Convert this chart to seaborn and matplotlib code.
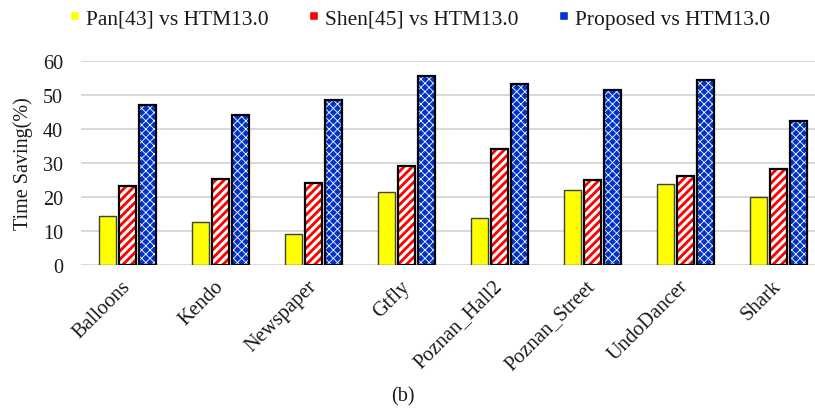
import matplotlib
matplotlib.use("Agg")
import matplotlib.pyplot as plt
import matplotlib.colors as mcolors
import seaborn as sns
import pandas as pd

categories = ["Balloons", "Kendo", "Newspaper", "Gtfly", "Poznan_Hall2",
              "Poznan_Street", "UndoDancer", "Shark"]
series_names = ["Pan[43] vs HTM13.0", "Shen[45] vs HTM13.0", "Proposed vs HTM13.0"]
pan_values = [14.3, 12.7, 9.1, 21.6, 13.9, 22.2, 23.8, 19.9]
shen_values = [23.1, 25.3, 24.0, 29.2, 34.1, 25.0, 26.3, 28.2]
proposed_values = [47.2, 44.2, 48.5, 55.7, 53.1, 51.4, 54.3, 42.4]
y_ticks = [0, 10, 20, 30, 40, 50, 60]

sns.set_style("white")
plt.rcParams["font.family"] = ["Liberation Serif", "DejaVu Serif"]
plt.rcParams["hatch.linewidth"] = 2.0

rows = []
for name, vals in zip(series_names, [pan_values, shen_values, proposed_values]):
    for c, v in zip(categories, vals):
        rows.append({"Sequence": c, "Series": name, "Saving": v})
df = pd.DataFrame(rows)

colors = ["#FFFF00", "#FF0000", "#0033CC"]
hatches = [None, "////", "xxxx"]
edgecolors = ["#404040", "black", "black"]
linewidths = [1.0, 1.6, 1.6]
hatch_lws = [1.0, 2.2, 0.6]

fig = plt.figure(figsize=(8.15, 4.10), dpi=100)
ax = fig.add_axes([81 / 815, 144 / 410, 744 / 815, 204 / 410])

sns.barplot(data=df, x="Sequence", y="Saving", hue="Series",
            hue_order=series_names, order=categories,
            palette=colors, width=0.645, gap=0.15, ax=ax,
            saturation=1.0, errorbar=None, legend=True)

white = mcolors.to_rgba("white")
for i, cont in enumerate(ax.containers):
    for p in cont.patches:
        p.set_edgecolor(edgecolors[i])
        p.set_linewidth(linewidths[i])
        if hatches[i]:
            p.set_hatch(hatches[i])
            if hasattr(p, "set_hatchcolor"):
                p.set_hatchcolor("white")
            else:
                p._hatch_color = white
            if hasattr(p, "set_hatch_linewidth"):
                p.set_hatch_linewidth(hatch_lws[i])

ax.set_xlim(-0.5, 7.5)
ax.set_ylim(0, 60)
ax.set_yticks(y_ticks)
ax.set_axisbelow(True)
ax.yaxis.grid(True, color="#d9d9d9", linewidth=1.4)
ax.xaxis.grid(False)
for s in ax.spines.values():
    s.set_visible(False)

ax.tick_params(axis="y", length=0, pad=13, labelsize=14.5, labelcolor="#1a1a1a")
ax.tick_params(axis="x", length=0, pad=13, labelsize=14.8, labelcolor="#1a1a1a")
for lab in ax.get_xticklabels():
    lab.set_rotation(45)
    lab.set_ha("right")
    lab.set_va("center")
    lab.set_rotation_mode("anchor")

ax.set_xlabel("")
ax.set_ylabel("Time Saving(%)", fontsize=14.5, color="#1a1a1a")
ax.yaxis.set_label_coords(-48 / 744, 0.5)

handles, labels = ax.get_legend_handles_labels()
ax.get_legend().remove()
leg = fig.legend(handles, labels, loc="center", bbox_to_anchor=(420 / 815, 1 - 20 / 410),
                 ncol=3, frameon=False, fontsize=15.5, handlelength=0.42,
                 handleheight=0.27, handletextpad=0.3, columnspacing=1.9,
                 borderaxespad=0, labelcolor="#1a1a1a")

fig.text(403 / 815, 1 - 397 / 410, "(b)", ha="center", va="center",
         fontsize=14.5, color="#1a1a1a")

fig.savefig("out.png", dpi=100)
